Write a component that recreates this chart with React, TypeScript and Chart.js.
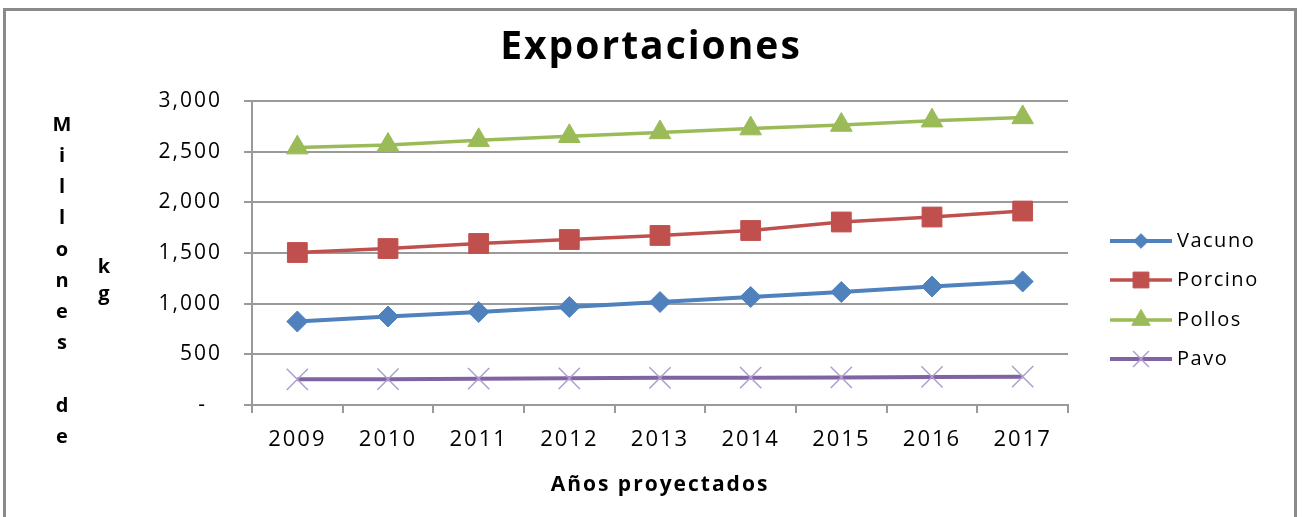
import React, { useEffect, useRef } from 'react';
import { Chart, registerables } from 'chart.js';
import { drawPoint } from 'chart.js/helpers';

Chart.register(...registerables);

const years = ['2009', '2010', '2011', '2012', '2013', '2014', '2015', '2016', '2017'];
const vacuno = [824, 873, 918, 967, 1016, 1066, 1115, 1169, 1219];
const porcino = [1505, 1544, 1594, 1633, 1673, 1722, 1806, 1855, 1914];
const pollos = [2540, 2566, 2612, 2652, 2690, 2728, 2763, 2806, 2838];
const pavo = [253, 255, 260, 263, 268, 270, 272, 277, 280];
const seriesNames = ['Vacuno', 'Porcino', 'Pollos', 'Pavo'];
const yTicks = { min: 0, max: 3000, step: 500 };
const chartTitle = 'Exportaciones';
const xTitle = 'Años proyectados';
const yTitleCol1 = ['M', 'i', 'l', 'l', 'o', 'n', 'e', 's', '', 'd', 'e'];
const yTitleCol2 = ['k', 'g'];

const FONT = "'Open Sans', 'Liberation Sans', sans-serif";
const GRID = '#9a9a9a';

const spacingPlugin = {
  id: 'spacing',
  beforeDraw(chart: any) {
    chart.ctx.letterSpacing = '2px';
  },
  afterDraw(chart: any) {
    chart.ctx.letterSpacing = '0px';
  },
};

const legendScale: Record<string, number> = { rectRot: 0.7, rect: 0.8, triangle: 0.85, crossRot: 0.75 };

const decorPlugin = {
  id: 'decor',
  afterDraw(chart: any) {
    const ctx = chart.ctx as CanvasRenderingContext2D;
    ctx.save();
    // frame
    ctx.strokeStyle = '#8a8a8a';
    ctx.lineWidth = 3;
    ctx.strokeRect(4.5, 9.5, 1291, 520);

    // title
    (ctx as any).letterSpacing = '2px';
    ctx.fillStyle = '#000';
    ctx.font = `bold 39px ${FONT}`;
    ctx.textAlign = 'center';
    ctx.textBaseline = 'middle';
    ctx.fillText(chartTitle, 651, 48);

    // y title stacked letters
    (ctx as any).letterSpacing = '0px';
    ctx.font = `bold 20px ${FONT}`;
    yTitleCol1.forEach((ch, i) => {
      if (ch) ctx.fillText(ch, 62, 125 + i * 31.2);
    });
    yTitleCol2.forEach((ch, i) => {
      ctx.fillText(ch, 104, 267 + i * 27);
    });

    // legend
    const ys = [241, 280, 320, 359];
    chart.data.datasets.forEach((ds: any, i: number) => {
      const y = ys[i];
      ctx.strokeStyle = ds.borderColor;
      ctx.lineWidth = ds.borderWidth;
      ctx.beginPath();
      ctx.moveTo(1110, y);
      ctx.lineTo(1172, y);
      ctx.stroke();
      ctx.fillStyle = ds.pointBackgroundColor;
      ctx.strokeStyle = ds.pointBorderColor;
      ctx.lineWidth = ds.pointBorderWidth;
      drawPoint(ctx, { pointStyle: ds.pointStyle, radius: ds.pointRadius * (legendScale[ds.pointStyle] || 0.8), rotation: 0, borderWidth: ds.pointBorderWidth }, 1141, y);
      (ctx as any).letterSpacing = '1.5px';
      ctx.fillStyle = '#000';
      ctx.font = `20px ${FONT}`;
      ctx.textAlign = 'left';
      ctx.textBaseline = 'middle';
      ctx.fillText(ds.label, 1177, y);
    });
    ctx.restore();
  },
};

export default function App() {
  const ref = useRef<HTMLCanvasElement>(null);
  useEffect(() => {
    if (!ref.current) return;
    const mk = (label: string, data: number[], color: string, style: string, r: number, lw: number, pColor?: string, pbw = 1) => ({
      label,
      data,
      borderColor: color,
      backgroundColor: color,
      borderWidth: lw,
      pointStyle: style,
      pointRadius: r,
      pointHoverRadius: r,
      pointBackgroundColor: pColor || color,
      pointBorderColor: pColor || color,
      pointBorderWidth: pbw,
      tension: 0,
      fill: false,
    });
    const chart = new Chart(ref.current, {
      type: 'line',
      data: {
        labels: years,
        datasets: [
          mk(seriesNames[0], vacuno, '#4F81BD', 'rectRot', 10.5, 4),
          mk(seriesNames[1], porcino, '#C0504D', 'rect', 14, 3.5),
          mk(seriesNames[2], pollos, '#9BBB59', 'triangle', 12.5, 3.5),
          mk(seriesNames[3], pavo, '#8064A2', 'crossRot', 15, 4, '#AE9ECF', 1.5),
        ],
      },
      options: {
        responsive: false,
        animation: false,
        devicePixelRatio: 1,
        layout: { padding: { left: 152, right: 235, top: 101, bottom: 0 } },
        plugins: {
          legend: { display: false },
          title: { display: false },
          tooltip: { enabled: false },
        },
        scales: {
          x: {
            type: 'category',
            offset: true,
            afterFit: (s: any) => { s.height = 112; },
            grid: { display: true, drawOnChartArea: false, drawTicks: true, tickLength: 8, offset: true, color: GRID, lineWidth: 2 },
            border: { display: true, color: GRID, width: 2 },
            ticks: { color: '#000', font: { family: FONT, size: 22 }, padding: 14, autoSkip: false, maxRotation: 0 },
            title: { display: true, text: xTitle, color: '#000', font: { family: FONT, size: 21, weight: 'bold' }, padding: { top: 0, bottom: 19.5 } },
          },
          y: {
            min: yTicks.min,
            max: yTicks.max,
            afterFit: (s: any) => { s.width = 100; },
            grid: { color: GRID, lineWidth: 2, tickLength: 8, drawTicks: true },
            border: { display: true, color: GRID, width: 2 },
            ticks: {
              stepSize: yTicks.step,
              color: '#000',
              font: { family: FONT, size: 21 },
              padding: 22,
              callback: (v: any) => (Number(v) === 0 ? '-  ' : Number(v).toLocaleString('en-US')),
            },
          },
        },
      } as any,
      plugins: [spacingPlugin, decorPlugin],
    });
    return () => chart.destroy();
  }, []);
  return (
    <div style={{ position: 'fixed', left: 0, top: 0, width: 1303, height: 517, background: '#fff' }}>
      <canvas ref={ref} width={1303} height={517} style={{ width: 1303, height: 517, display: 'block' }} />
    </div>
  );
}
